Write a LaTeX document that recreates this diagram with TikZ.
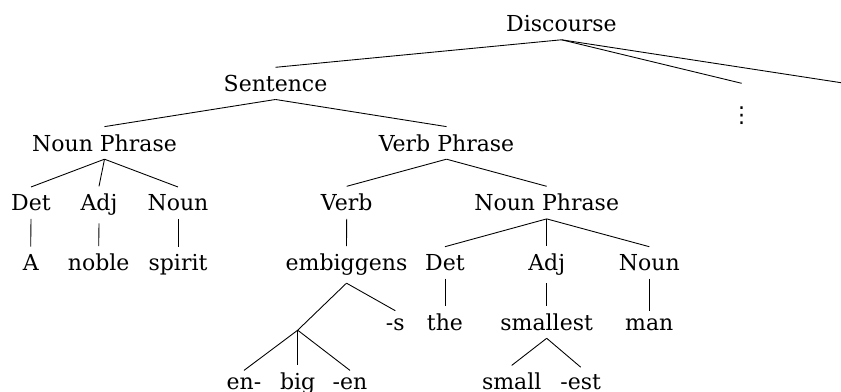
\documentclass[tikz,border=0pt]{standalone}
\usepackage{fontspec}
\setmainfont{DejaVu Serif}
\newfontfamily\dotsfont{DejaVu Sans}
\usepackage{tikz}

\begin{document}
\begin{tikzpicture}[x=0.4545pt,y=-0.4545pt,
	word/.style={anchor=base,inner sep=3.33pt},
	branch/.style={draw,thin}]
	\useasboundingbox (0,0) rectangle (841,392);
	\clip (0,0) rectangle (841,392);

	%discourse
	\node[word] (disc) at (561.5,31.7) {Discourse};
	\node[word] (sent) at (275.5,91.4) {Sentence};
	\node[anchor=north,inner sep=3.33pt,text height=14.5pt,text depth=0pt] (more) at (741.7,83.3) {\dotsfont ⋮};
	\coordinate (next) at (845,83.3);
	\draw[branch] (disc.south) -- (sent.north);
	\draw[branch] (disc.south) -- (more.north);
	\draw[branch] (disc.south) -- (next);

	%sentence
	\node[word] (np) at (104.5,151.1) {Noun Phrase};
	\node[word] (vp) at (446.5,151.1) {Verb Phrase};
	\draw[branch] (sent.south) -- (np.north);
	\draw[branch] (sent.south) -- (vp.north);

	%noun phrase left
	\node[word] (det) at (31,210.8) {Det};
	\node[word] (adj) at (99,210.8) {Adj};
	\node[word] (noun) at (178,210.8) {Noun};
	\draw[branch] (np.south) -- (det.north);
	\draw[branch] (np.south) -- (adj.north);
	\draw[branch] (np.south) -- (noun.north);
	\node[word] (a) at (30.7,270.5) {A};
	\node[word] (noble) at (98.7,270.5) {noble};
	\node[word] (spirit) at (178,270.5) {spirit};
	\draw[branch] (det.south) -- (a.north);
	\draw[branch] (adj.south) -- (noble.north);
	\draw[branch] (noun.south) -- (spirit.north);

	%verb phrase
	\node[word] (verb) at (346.7,210.8) {Verb};
	\node[word] (np2) at (546.7,210.8) {Noun Phrase};
	\draw[branch] (vp.south) -- (verb.north);
	\draw[branch] (vp.south) -- (np2.north);
	\node[word] (emb) at (346.5,270.5) {embiggens};
	\draw[branch] (verb.south) -- (emb.north);

	%embiggens
	\coordinate (stem) at (297.7,330.2);
	\node[word] (s) at (395.3,330.2) {-s};
	\draw[branch] (emb.south) -- (stem);
	\draw[branch] (emb.south) -- (s.north);
	\node[word] (en) at (244,389.9) {en-};
	\node[word] (big) at (297.7,389.9) {big};
	\node[word] (en2) at (350,389.9) {-en};
	\draw[branch] (stem) -- (en.north);
	\draw[branch] (stem) -- (big.north);
	\draw[branch] (stem) -- (en2.north);

	%noun phrase right
	\node[word] (det2) at (445,270.5) {Det};
	\node[word] (adj2) at (546.7,270.5) {Adj};
	\node[word] (noun2) at (649.3,270.5) {Noun};
	\draw[branch] (np2.south) -- (det2.north);
	\draw[branch] (np2.south) -- (adj2.north);
	\draw[branch] (np2.south) -- (noun2.north);
	\node[word] (the) at (445,330.2) {the};
	\node[word] (smallest) at (546.7,330.2) {smallest};
	\node[word] (man) at (649.3,330.2) {man};
	\draw[branch] (det2.south) -- (the.north);
	\draw[branch] (adj2.south) -- (smallest.north);
	\draw[branch] (noun2.south) -- (man.north);

	%smallest
	\node[word] (small) at (511.7,389.9) {small};
	\node[word] (est) at (580.7,389.9) {-est};
	\draw[branch] (smallest.south) -- (small.north);
	\draw[branch] (smallest.south) -- (est.north);
\end{tikzpicture}
\end{document}
